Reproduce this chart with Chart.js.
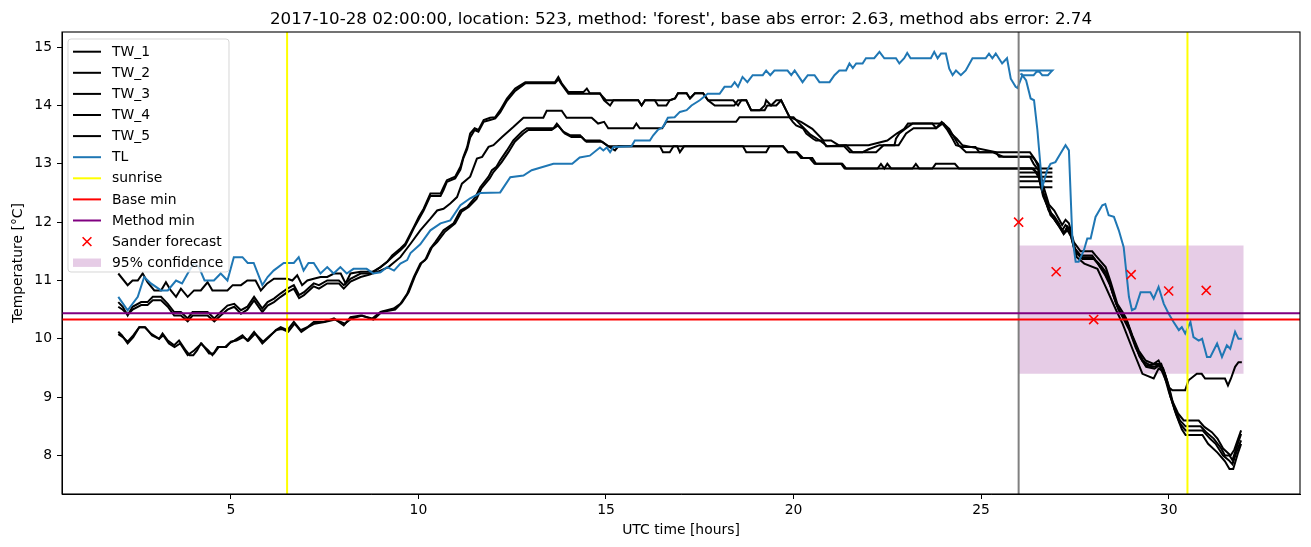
<!DOCTYPE html>
<html>
<head>
<meta charset="utf-8">
<script src="https://cdn.jsdelivr.net/npm/chart.js@4.4.1/dist/chart.umd.min.js"></script>
<style>
  html, body { margin: 0; padding: 0; background: #fff; }
  canvas { display: block; }
</style>
</head>
<body>
<canvas id="myChart" width="1311" height="547"></canvas>
<script>
// axis ranges and ticks
const xMin = 0.5, xMax = 33.5;
const yMin = 7.34, yMax = 15.26;
const xTicks = [5, 10, 15, 20, 25, 30];
const yTicks = [8, 9, 10, 11, 12, 13, 14, 15];

const titleText = "2017-10-28 02:00:00, location: 523, method: 'forest', base abs error: 2.63, method abs error: 2.74";

// [hour, temperature]
const TW_1 = [[2.0,11.12],[2.25,10.92],[2.38,11.0],[2.52,11.0],[2.65,11.12],[2.78,10.97],[2.96,10.83],[3.14,10.83],[3.27,10.97],[3.4,10.83],[3.54,10.72],[3.67,10.86],[3.85,10.72],[4.02,10.83],[4.2,10.83],[4.38,10.97],[4.51,10.83],[4.91,10.83],[5.05,10.92],[5.27,10.92],[5.44,11.0],[5.66,11.0],[5.8,10.83],[5.97,10.95],[6.15,11.03],[6.51,11.03],[6.64,11.0],[6.77,11.09],[6.9,10.92],[7.04,11.0],[7.21,11.03],[7.39,11.06],[7.57,11.06],[7.75,11.12],[7.93,11.12],[8.06,10.95],[8.19,11.12],[8.46,11.15],[8.81,11.15],[8.99,11.23],[9.17,11.32],[9.3,11.43],[9.52,11.55],[9.65,11.63],[9.88,11.92],[10.01,12.09],[10.14,12.23],[10.32,12.49],[10.59,12.49],[10.67,12.6],[10.76,12.72],[10.98,12.78],[11.12,12.95],[11.2,13.12],[11.3,13.29],[11.38,13.52],[11.5,13.61],[11.6,13.58],[11.74,13.75],[11.91,13.79],[12.05,13.8],[12.18,13.92],[12.36,14.12],[12.58,14.29],[12.85,14.4],[13.64,14.4],[13.73,14.49],[13.82,14.38],[14.0,14.23],[14.4,14.23],[14.49,14.29],[14.57,14.21],[14.84,14.21],[14.95,14.09],[15.11,14.0],[15.2,14.09],[15.86,14.09],[15.95,14.0],[16.04,14.09],[16.3,14.09],[16.39,14.0],[16.61,14.0],[16.7,14.09],[16.84,14.12],[16.92,14.21],[17.15,14.21],[17.24,14.12],[17.37,14.21],[17.59,14.21],[17.72,14.09],[18.39,14.09],[18.52,14.0],[18.61,14.09],[18.74,14.09],[18.87,13.92],[19.1,13.92],[19.23,14.0],[19.27,14.09],[19.4,14.0],[19.54,14.09],[19.67,14.09],[19.8,13.92],[19.89,13.8],[19.98,13.72],[20.07,13.66],[20.25,13.61],[20.34,13.52],[20.52,13.43],[20.6,13.4],[20.78,13.4],[20.87,13.3],[21.4,13.32],[21.58,13.2],[21.84,13.2],[22.0,13.25],[22.29,13.32],[22.69,13.32],[22.73,13.43],[22.82,13.52],[23.0,13.61],[23.17,13.69],[23.7,13.69],[23.8,13.61],[23.97,13.69],[24.1,13.58],[24.24,13.43],[24.33,13.32],[24.5,13.29],[24.85,13.29],[24.95,13.2],[25.39,13.2],[25.48,13.12],[26.0,13.12],[26.36,13.12],[26.45,13.06],[26.54,12.98],[26.63,12.68],[26.81,12.3],[26.95,12.2],[27.07,12.06],[27.16,11.95],[27.25,12.04],[27.34,11.98],[27.47,11.66],[27.65,11.5],[27.96,11.5],[28.05,11.43],[28.2,11.32],[28.32,11.23],[28.45,10.98],[28.63,10.6],[28.8,10.43],[28.9,10.29],[29.03,10.06],[29.2,9.8],[29.38,9.63],[29.6,9.57],[29.73,9.63],[29.9,9.4],[30.05,9.0],[30.25,8.72],[30.4,8.6],[30.8,8.6],[30.95,8.49],[31.15,8.4],[31.3,8.29],[31.45,8.12],[31.55,8.06],[31.65,8.0],[31.75,8.1],[31.93,8.43]];

const TW_2 = [[2.0,10.63],[2.12,10.55],[2.25,10.4],[2.38,10.55],[2.61,10.63],[2.78,10.63],[2.92,10.72],[3.14,10.72],[3.32,10.6],[3.49,10.46],[3.67,10.46],[3.85,10.35],[3.98,10.46],[4.38,10.46],[4.56,10.35],[4.73,10.46],[4.91,10.57],[5.09,10.6],[5.27,10.49],[5.44,10.55],[5.62,10.72],[5.84,10.52],[5.98,10.63],[6.15,10.69],[6.33,10.78],[6.51,10.86],[6.68,10.92],[6.82,10.75],[6.95,10.8],[7.21,10.95],[7.35,10.92],[7.57,11.0],[7.88,11.0],[8.01,10.92],[8.19,11.03],[8.46,11.12],[8.7,11.12],[8.99,11.23],[9.17,11.32],[9.3,11.4],[9.52,11.52],[9.65,11.6],[9.79,11.78],[9.88,11.9],[10.01,12.05],[10.14,12.2],[10.32,12.45],[10.59,12.45],[10.67,12.55],[10.76,12.69],[10.98,12.75],[11.12,12.9],[11.2,13.1],[11.3,13.25],[11.38,13.45],[11.5,13.58],[11.6,13.55],[11.74,13.72],[11.91,13.75],[12.05,13.78],[12.18,13.88],[12.36,14.08],[12.58,14.25],[12.85,14.38],[13.64,14.38],[13.73,14.45],[13.82,14.36],[14.0,14.2],[14.84,14.2],[15.0,14.09],[15.86,14.09],[15.95,14.0],[16.04,14.09],[16.7,14.09],[16.84,14.12],[16.92,14.21],[17.15,14.21],[17.24,14.12],[17.37,14.21],[17.59,14.21],[17.72,14.09],[17.9,14.0],[18.42,14.0],[18.52,14.09],[18.74,14.09],[18.87,13.92],[19.23,13.92],[19.3,14.0],[19.54,14.0],[19.67,14.09],[19.8,13.92],[19.9,13.8],[20.0,13.8],[20.2,13.66],[20.45,13.5],[20.7,13.4],[20.9,13.3],[21.35,13.3],[21.5,13.2],[22.2,13.2],[22.4,13.32],[22.8,13.32],[23.0,13.52],[23.2,13.61],[23.8,13.61],[23.95,13.72],[24.15,13.6],[24.4,13.32],[24.6,13.2],[25.3,13.2],[25.6,13.12],[26.0,13.12],[26.3,13.12],[26.4,13.0],[26.52,12.9],[26.62,12.55],[26.8,12.2],[26.95,12.1],[27.07,11.98],[27.16,11.86],[27.25,11.95],[27.34,11.9],[27.47,11.57],[27.65,11.43],[27.96,11.43],[28.05,11.35],[28.2,11.25],[28.35,11.12],[28.5,10.8],[28.67,10.49],[28.85,10.37],[29.0,10.09],[29.2,9.76],[29.38,9.55],[29.6,9.52],[29.8,9.57],[29.95,9.3],[30.1,8.9],[30.3,8.6],[30.45,8.5],[30.85,8.5],[31.0,8.4],[31.2,8.29],[31.4,8.12],[31.5,8.0],[31.62,8.0],[31.7,7.92],[31.8,8.12],[31.93,8.37]];

const TW_3 = [[2.0,10.55],[2.12,10.5],[2.25,10.42],[2.38,10.5],[2.61,10.58],[2.78,10.58],[2.92,10.66],[3.14,10.66],[3.32,10.55],[3.49,10.4],[3.67,10.4],[3.85,10.3],[3.98,10.4],[4.38,10.4],[4.56,10.3],[4.73,10.4],[4.91,10.5],[5.09,10.55],[5.27,10.43],[5.44,10.5],[5.62,10.66],[5.84,10.46],[5.98,10.57],[6.15,10.63],[6.33,10.72],[6.51,10.8],[6.68,10.86],[6.82,10.7],[6.95,10.75],[7.21,10.9],[7.35,10.86],[7.57,10.95],[7.88,10.95],[8.01,10.86],[8.19,10.98],[8.46,11.06],[8.7,11.1],[8.99,11.17],[9.2,11.23],[9.52,11.4],[9.79,11.63],[10.05,11.86],[10.32,12.06],[10.5,12.2],[10.67,12.23],[10.85,12.32],[11.03,12.43],[11.16,12.66],[11.38,12.78],[11.56,13.09],[11.7,13.12],[11.87,13.29],[12.0,13.32],[12.23,13.46],[12.53,13.63],[12.8,13.79],[13.33,13.79],[13.42,13.91],[13.82,13.91],[13.95,13.79],[14.62,13.79],[14.79,13.69],[14.95,13.72],[15.06,13.61],[15.73,13.61],[15.81,13.69],[15.9,13.61],[16.5,13.61],[16.61,13.72],[18.47,13.72],[18.56,13.8],[19.9,13.8],[20.2,13.72],[20.5,13.6],[20.8,13.4],[21.0,13.4],[21.2,13.32],[22.0,13.32],[22.5,13.4],[22.75,13.52],[22.95,13.6],[23.05,13.69],[24.0,13.69],[24.2,13.52],[24.35,13.43],[24.5,13.32],[25.4,13.2],[26.0,13.2],[26.3,13.2],[26.42,13.09],[26.55,12.92],[26.66,12.5],[26.85,12.12],[26.98,12.03],[27.1,11.92],[27.2,11.8],[27.28,11.9],[27.38,11.86],[27.5,11.5],[27.7,11.37],[28.0,11.37],[28.1,11.3],[28.25,11.17],[28.4,11.0],[28.54,10.72],[28.7,10.45],[28.88,10.3],[29.05,10.0],[29.22,9.7],[29.4,9.52],[29.62,9.49],[29.75,9.55],[29.85,9.5],[30.0,9.2],[30.15,8.8],[30.3,8.55],[30.45,8.43],[30.9,8.43],[31.1,8.29],[31.25,8.2],[31.45,8.0],[31.6,7.92],[31.7,7.85],[31.8,8.05],[31.93,8.26]];

const TW_4 = [[2.0,10.12],[2.1,10.06],[2.25,9.92],[2.4,10.03],[2.56,10.2],[2.7,10.2],[2.87,10.09],[3.09,10.0],[3.18,10.09],[3.32,9.97],[3.49,9.89],[3.62,9.97],[3.8,9.8],[3.9,9.72],[4.0,9.72],[4.1,9.8],[4.2,9.92],[4.4,9.8],[4.51,9.72],[4.65,9.86],[4.85,9.86],[4.95,9.92],[5.09,9.97],[5.31,10.06],[5.44,9.97],[5.62,10.12],[5.84,9.92],[6.02,10.03],[6.2,10.15],[6.33,10.2],[6.51,10.15],[6.68,10.29],[6.86,10.15],[7.04,10.2],[7.21,10.29],[7.48,10.29],[7.75,10.35],[8.01,10.23],[8.19,10.37],[8.46,10.4],[8.77,10.35],[8.99,10.46],[9.34,10.52],[9.52,10.6],[9.7,10.77],[9.88,11.06],[10.05,11.29],[10.18,11.35],[10.32,11.55],[10.45,11.66],[10.67,11.86],[10.94,11.98],[11.12,12.2],[11.3,12.26],[11.52,12.43],[11.65,12.6],[11.87,12.78],[11.96,12.89],[12.08,12.95],[12.18,13.06],[12.36,13.23],[12.53,13.4],[12.76,13.55],[12.89,13.61],[13.6,13.61],[13.69,13.69],[13.86,13.55],[14.04,13.49],[14.31,13.49],[14.44,13.4],[14.84,13.4],[15.02,13.32],[15.24,13.23],[15.33,13.3],[16.44,13.3],[16.52,13.2],[16.7,13.2],[16.8,13.3],[16.9,13.3],[16.97,13.2],[17.08,13.3],[18.65,13.3],[18.74,13.2],[19.27,13.2],[19.36,13.3],[19.72,13.3],[19.85,13.2],[20.07,13.2],[20.2,13.1],[20.43,13.1],[20.56,13.0],[21.27,13.0],[21.36,12.92],[22.24,12.92],[22.33,13.0],[22.42,12.92],[22.5,13.0],[22.6,12.92],[23.17,12.92],[23.26,13.0],[23.35,12.92],[23.7,12.92],[23.79,13.0],[24.3,13.0],[24.41,12.92],[26.35,12.92],[26.5,12.85],[26.6,12.6],[26.72,12.4],[26.9,12.1],[27.05,11.95],[27.2,11.8],[27.3,11.86],[27.4,11.75],[27.55,11.4],[27.75,11.29],[28.1,11.2],[28.32,10.89],[28.6,10.49],[28.77,10.26],[29.05,9.8],[29.3,9.4],[29.6,9.32],[29.73,9.49],[29.85,9.45],[30.0,9.1],[30.2,8.7],[30.35,8.45],[30.45,8.35],[30.9,8.35],[31.05,8.2],[31.3,8.05],[31.5,7.9],[31.62,7.77],[31.72,7.77],[31.85,8.05],[31.93,8.2]];

const TW_5 = [[2.0,10.08],[2.12,10.03],[2.25,9.95],[2.4,10.06],[2.56,10.2],[2.72,10.2],[2.9,10.06],[3.09,10.0],[3.2,10.06],[3.35,9.92],[3.5,9.86],[3.65,9.92],[3.85,9.72],[4.02,9.8],[4.22,9.92],[4.42,9.75],[4.55,9.75],[4.68,9.86],[4.88,9.86],[5.0,9.95],[5.15,9.97],[5.33,10.03],[5.47,9.97],[5.65,10.09],[5.86,9.95],[6.05,10.06],[6.22,10.15],[6.35,10.17],[6.53,10.12],[6.7,10.26],[6.88,10.12],[7.06,10.2],[7.23,10.26],[7.5,10.29],[7.78,10.33],[8.04,10.26],[8.22,10.35],[8.5,10.4],[8.8,10.33],[9.02,10.46],[9.38,10.5],[9.56,10.62],[9.74,10.8],[9.92,11.09],[10.08,11.3],[10.22,11.38],[10.36,11.57],[10.5,11.66],[10.7,11.83],[10.98,11.98],[11.15,12.18],[11.34,12.26],[11.55,12.4],[11.68,12.58],[11.9,12.75],[12.0,12.86],[12.12,12.95],[12.22,13.03],[12.4,13.2],[12.57,13.38],[12.8,13.52],[12.93,13.58],[13.55,13.58],[13.72,13.66],[13.9,13.52],[14.08,13.46],[14.35,13.46],[14.48,13.38],[14.9,13.38],[15.06,13.3],[19.72,13.3],[19.85,13.2],[20.1,13.2],[20.25,13.1],[20.5,13.1],[20.6,13.0],[21.3,13.0],[21.4,12.92],[26.4,12.92],[26.55,12.75],[26.65,12.45],[26.85,12.15],[27.0,12.0],[27.12,11.9],[27.22,11.82],[27.3,11.92],[27.4,11.8],[27.52,11.5],[27.7,11.4],[27.98,11.4],[28.1,11.3],[28.3,11.1],[28.45,10.9],[28.6,10.6],[28.75,10.4],[28.95,10.15],[29.12,9.85],[29.3,9.62],[29.5,9.55],[29.65,9.57],[29.73,9.57],[29.85,9.4],[30.0,9.17],[30.1,9.12],[30.44,9.12],[30.53,9.29],[30.75,9.4],[30.88,9.4],[30.97,9.32],[31.5,9.32],[31.58,9.2],[31.66,9.32],[31.77,9.52],[31.86,9.6],[31.95,9.6]];

const TL = [[2.0,10.72],[2.25,10.49],[2.52,10.72],[2.69,11.06],[2.87,10.95],[3.14,10.83],[3.32,10.83],[3.54,11.0],[3.7,10.95],[3.85,11.12],[4.02,11.3],[4.15,11.23],[4.3,11.0],[4.55,11.0],[4.73,11.12],[4.91,11.0],[5.08,11.4],[5.31,11.4],[5.45,11.3],[5.61,11.3],[5.84,10.92],[5.98,11.06],[6.14,11.17],[6.41,11.3],[6.68,11.3],[6.81,11.4],[6.94,11.17],[7.07,11.3],[7.21,11.3],[7.39,11.12],[7.57,11.23],[7.74,11.12],[7.92,11.23],[8.09,11.12],[8.27,11.2],[8.62,11.2],[8.8,11.12],[8.99,11.14],[9.17,11.23],[9.35,11.17],[9.52,11.29],[9.7,11.35],[9.79,11.47],[10.05,11.62],[10.32,11.86],[10.59,11.98],[10.85,12.03],[11.12,12.29],[11.38,12.41],[11.65,12.5],[12.18,12.51],[12.45,12.77],[12.8,12.8],[13.02,12.89],[13.6,13.0],[14.1,13.0],[14.3,13.11],[14.57,13.14],[14.84,13.28],[14.93,13.23],[15.02,13.28],[15.11,13.2],[15.2,13.29],[15.68,13.3],[15.77,13.4],[16.17,13.4],[16.26,13.49],[16.38,13.58],[16.52,13.63],[16.65,13.79],[16.83,13.8],[16.97,13.89],[17.15,13.92],[17.28,14.0],[17.5,14.09],[17.71,14.2],[18.03,14.2],[18.16,14.32],[18.34,14.32],[18.43,14.4],[18.52,14.32],[18.64,14.49],[18.77,14.4],[18.91,14.52],[19.18,14.52],[19.27,14.6],[19.38,14.52],[19.49,14.6],[19.84,14.6],[19.94,14.52],[20.03,14.6],[20.24,14.4],[20.38,14.52],[20.56,14.52],[20.69,14.4],[20.96,14.4],[21.09,14.52],[21.22,14.6],[21.4,14.6],[21.49,14.72],[21.58,14.64],[21.67,14.72],[21.84,14.72],[21.93,14.81],[22.15,14.81],[22.29,14.92],[22.42,14.81],[22.73,14.81],[22.82,14.72],[22.95,14.81],[23.03,14.9],[23.12,14.81],[23.66,14.81],[23.75,14.92],[23.84,14.81],[23.93,14.89],[24.06,14.89],[24.15,14.63],[24.24,14.52],[24.33,14.6],[24.46,14.52],[24.59,14.6],[24.77,14.81],[25.12,14.81],[25.21,14.89],[25.3,14.81],[25.39,14.89],[25.56,14.72],[25.69,14.81],[25.79,14.46],[25.92,14.32],[25.97,14.3],[26.1,14.52],[26.2,14.43],[26.32,14.12],[26.41,14.09],[26.5,13.58],[26.63,12.6],[26.76,12.89],[26.85,13.0],[26.98,13.03],[27.12,13.18],[27.25,13.32],[27.34,13.23],[27.43,11.75],[27.52,11.32],[27.6,11.32],[27.74,11.52],[27.83,11.72],[27.92,11.72],[28.05,12.09],[28.23,12.29],[28.31,12.31],[28.4,12.12],[28.54,12.09],[28.67,11.86],[28.8,11.57],[28.94,10.72],[29.02,10.49],[29.11,10.52],[29.25,10.8],[29.51,10.8],[29.6,10.69],[29.73,10.89],[29.87,10.6],[30.0,10.43],[30.13,10.29],[30.27,10.15],[30.35,10.2],[30.44,10.09],[30.58,10.29],[30.66,10.03],[30.8,9.97],[30.89,10.0],[31.02,9.69],[31.11,9.69],[31.29,9.92],[31.42,9.69],[31.55,9.89],[31.64,9.83],[31.77,10.12],[31.86,10.0],[31.95,10.0]];

// short flat pieces drawn around the forecast start
const TL_piece = [[26.0,14.6],[26.9,14.6],[26.87,14.58],[26.78,14.52],[26.63,14.52],[26.55,14.58],[26.48,14.58],[26.4,14.52],[26.1,14.52],[26.05,14.55]];
const TW_pieces = [12.92, 12.85, 12.78, 12.7, 12.6];
const pieceHours = [26.0, 26.9];

const sunriseHours = [6.5, 30.5];
const forecastStart = 26.0;
const baseMin = 10.33;
const methodMin = 10.44;

const sanderHours = [26, 27, 28, 29, 30, 31];
const sanderValues = [12.0, 11.15, 10.33, 11.1, 10.82, 10.83];

const bandHours = [26, 32];
const bandLow = 9.4;
const bandHigh = 11.6;

function pts(arr) { return arr.map(p => ({ x: p[0], y: p[1] })); }
function vline(hs) {
    let out = [];
    hs.forEach((h, i) => {
        if (i > 0) out.push({ x: h, y: null });
        out.push({ x: h, y: yMin }, { x: h, y: yMax });
    });
    return out;
}
function hline(v) { return [{ x: xMin, y: v }, { x: xMax, y: v }]; }

// drawn bottom -> top
let sets = [];
sets.push({ label: '95% confidence', data: bandHours.map(h => ({ x: h, y: bandHigh })), borderWidth: 0, borderColor: 'rgba(0,0,0,0)',
    backgroundColor: 'rgba(128,0,128,0.2)', fill: { value: bandLow }, kind: 'patch' });
[TW_1, TW_2, TW_3, TW_4, TW_5].forEach((s, i) => {
    sets.push({ label: 'TW_' + (i + 1), data: pts(s), borderColor: '#000000', kind: 'line' });
});
TW_pieces.forEach((v, i) => {
    sets.push({ label: '_piece' + i, data: pieceHours.map(h => ({ x: h, y: v })), borderColor: '#000000' });
});
sets.push({ label: 'TL', data: pts(TL), borderColor: '#1f77b4', kind: 'line' });
sets.push({ label: '_tlpiece', data: pts(TL_piece), borderColor: '#1f77b4' });
sets.push({ label: '_start', data: vline([forecastStart]), borderColor: '#808080' });
sets.push({ label: 'sunrise', data: vline(sunriseHours), borderColor: '#ffff00', kind: 'line' });
sets.push({ label: 'Base min', data: hline(baseMin), borderColor: '#ff0000', kind: 'line' });
sets.push({ label: 'Method min', data: hline(methodMin), borderColor: '#800080', kind: 'line' });
sets.push({ label: 'Sander forecast', data: sanderHours.map((h, i) => ({ x: h, y: sanderValues[i] })), showLine: false,
    pointStyle: 'crossRot', pointRadius: 6.4, pointBorderWidth: 1.6, borderColor: '#ff0000', pointBorderColor: '#ff0000', kind: 'marker' });

sets.forEach((d, i) => {
    d.order = sets.length - i;
    if (d.borderWidth === undefined) d.borderWidth = 2;
    if (d.fill === undefined) d.fill = false;
    d.spanGaps = false;
});

const legendOrder = ['TW_1', 'TW_2', 'TW_3', 'TW_4', 'TW_5', 'TL', 'sunrise', 'Base min', 'Method min', 'Sander forecast', '95% confidence'];

const FONT = 'DejaVu Sans';

const framePlugin = {
    id: 'frame',
    afterDraw(chart) {
        const c = chart.ctx, a = chart.chartArea;
        c.save();
        c.strokeStyle = '#000';
        c.lineWidth = 1.1;
        c.strokeRect(a.left, a.top, a.right - a.left, a.bottom - a.top);

        // title and axis labels
        c.fillStyle = '#000';
        c.textAlign = 'center';
        c.textBaseline = 'alphabetic';
        c.font = '16.7px "' + FONT + '"';
        c.fillText(titleText, (a.left + a.right) / 2, 24);
        c.font = '13.9px "' + FONT + '"';
        c.fillText('UTC time [hours]', (a.left + a.right) / 2, 534);
        c.save();
        c.translate(22, (a.top + a.bottom) / 2);
        c.rotate(-Math.PI / 2);
        c.fillText('Temperature [°C]', 0, 0);
        c.restore();

        // legend box, matplotlib style
        const bx = a.left + 6, by = a.top + 7, bw = 161, bh = 233;
        c.beginPath();
        c.roundRect(bx, by, bw, bh, 3);
        c.fillStyle = 'rgba(255,255,255,0.8)';
        c.fill();
        c.strokeStyle = 'rgba(204,204,204,0.8)';
        c.lineWidth = 1;
        c.stroke();
        c.font = '13.9px "' + FONT + '"';
        c.textAlign = 'left';
        c.textBaseline = 'middle';
        legendOrder.forEach((name, i) => {
            const d = chart.data.datasets.find(s => s.label === name);
            const y = by + 12.7 + i * 21.1;
            const hx0 = bx + 5, hx1 = bx + 33;
            if (d.kind === 'line') {
                c.strokeStyle = d.borderColor;
                c.lineWidth = 2;
                c.beginPath();
                c.moveTo(hx0, y);
                c.lineTo(hx1, y);
                c.stroke();
            } else if (d.kind === 'marker') {
                const cx = (hx0 + hx1) / 2, r = 4.4;
                c.strokeStyle = d.borderColor;
                c.lineWidth = 1.6;
                c.beginPath();
                c.moveTo(cx - r, y - r); c.lineTo(cx + r, y + r);
                c.moveTo(cx - r, y + r); c.lineTo(cx + r, y - r);
                c.stroke();
            } else {
                c.fillStyle = d.backgroundColor;
                c.fillRect(hx0, y - 4.2, hx1 - hx0, 8.4);
            }
            c.fillStyle = '#000';
            c.fillText(name, bx + 44, y + 0.5);
        });
        c.restore();
    }
};

let ctx = document.getElementById('myChart').getContext('2d');
let myChart = new Chart(ctx, {
    type: 'line',
    data: { datasets: sets },
    options: {
        responsive: false,
        animation: false,
        devicePixelRatio: 1,
        layout: { padding: { top: 32, right: 11, left: 0, bottom: 0 } },
        elements: { point: { radius: 0, hoverRadius: 0 }, line: { tension: 0, borderCapStyle: 'butt' } },
        plugins: {
            legend: { display: false },
            tooltip: { enabled: false },
            title: { display: false }
        },
        scales: {
            x: {
                type: 'linear',
                min: xMin,
                max: xMax,
                afterBuildTicks: s => { s.ticks = xTicks.map(v => ({ value: v })); },
                afterFit: s => { s.height = 53; },
                grid: { drawOnChartArea: false, tickLength: 5, tickColor: '#000', tickWidth: 1 },
                border: { display: true, color: '#000', width: 1 },
                ticks: { color: '#000', font: { family: FONT, size: 13.9 }, padding: 3, maxRotation: 0, autoSkip: false }
            },
            y: {
                type: 'linear',
                min: yMin,
                max: yMax,
                afterBuildTicks: s => { s.ticks = yTicks.map(v => ({ value: v })); },
                afterFit: s => { s.width = 62; },
                grid: { drawOnChartArea: false, tickLength: 5, tickColor: '#000', tickWidth: 1 },
                border: { display: true, color: '#000', width: 1 },
                ticks: { color: '#000', font: { family: FONT, size: 13.9 }, padding: 5, autoSkip: false }
            }
        }
    },
    plugins: [framePlugin]
});
</script>
</body>
</html>
